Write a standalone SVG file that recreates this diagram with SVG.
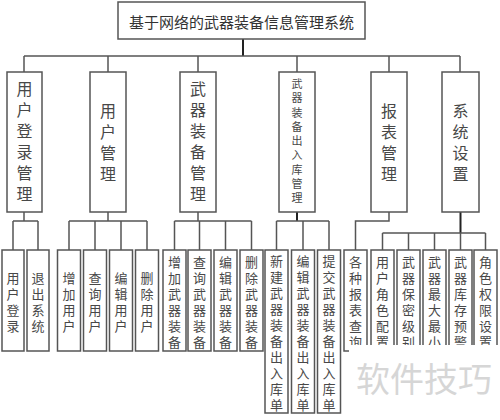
<svg xmlns="http://www.w3.org/2000/svg" width="500" height="420" viewBox="0 0 500 420">
<style>
.box{fill:#fff;stroke:#555;stroke-width:1.5}
.ln{fill:none;stroke:#555;stroke-width:1.5}
.dk{fill:none;stroke:#222;stroke-width:2}
text{font-family:"Noto Sans CJK SC","Noto Sans CJK JP",sans-serif;fill:#484848;text-anchor:middle;dominant-baseline:central}
.t1{font-size:15px;fill:#333}
.t2{font-size:16px}
.t2s{font-size:11px}
.t3{font-size:13px}
.wm{font-size:34px;fill:#d6d6d6;text-anchor:start;dominant-baseline:alphabetic}
</style>
<rect width="500" height="420" fill="#fff"/>
<g id="connectors">
<path class="dk" d="M243,39V56"/>
<path class="ln" d="M24,56H460M24,56V72M108,56V72M198,56V72M297,56V72M389,56V72M460,56V72"/>
<path class="ln" d="M24,212V221M13,221H38M13,221V250M38,221V250"/>
<path class="ln" d="M108,212V221M69,221H147M69,221V250M95,221V250M121,221V250M147,221V250"/>
<path class="ln" d="M198,212V221M174.5,221H251.5M174.5,221V250M199.5,221V250M225.5,221V250M251.5,221V250"/>
<path class="dk" d="M297,212V221"/>
<path class="ln" d="M276.5,221H329M276.5,221V250M303,221V250M329,221V250"/>
<path class="ln" d="M389,212V221H355.5V250"/>
<path class="dk" d="M460.5,212V233"/>
<path class="ln" d="M382.5,233H485.5M382.5,233V250M408.5,233V250M434.5,233V250M460.5,233V250M485.5,233V250"/>
</g>
<g id="root"><rect class="box" x="118" y="2" width="247" height="37"/><text class="t1" x="241.5" y="21">基于网络的武器装备信息管理系统</text></g>
<g id="n1"><rect class="box" x="7" y="72" width="35" height="140"/><text class="t2"><tspan x="24.5" y="88">用</tspan><tspan x="24.5" y="109">户</tspan><tspan x="24.5" y="130">登</tspan><tspan x="24.5" y="151">录</tspan><tspan x="24.5" y="172">管</tspan><tspan x="24.5" y="193">理</tspan></text></g>
<g id="n2"><rect class="box" x="90" y="72" width="36" height="140"/><text class="t2"><tspan x="108" y="110">用</tspan><tspan x="108" y="131">户</tspan><tspan x="108" y="152">管</tspan><tspan x="108" y="173">理</tspan></text></g>
<g id="n3"><rect class="box" x="180" y="72" width="36" height="140"/><text class="t2"><tspan x="198" y="88">武</tspan><tspan x="198" y="109">器</tspan><tspan x="198" y="130">装</tspan><tspan x="198" y="151">备</tspan><tspan x="198" y="172">管</tspan><tspan x="198" y="193">理</tspan></text></g>
<g id="n4"><rect class="box" x="279" y="72" width="36" height="140"/><text class="t2s"><tspan x="297" y="83">武</tspan><tspan x="297" y="97.3">器</tspan><tspan x="297" y="111.5">装</tspan><tspan x="297" y="125.8">备</tspan><tspan x="297" y="140">出</tspan><tspan x="297" y="154.3">入</tspan><tspan x="297" y="168.5">库</tspan><tspan x="297" y="182.8">管</tspan><tspan x="297" y="197">理</tspan></text></g>
<g id="n5"><rect class="box" x="371" y="72" width="36" height="140"/><text class="t2"><tspan x="389" y="110">报</tspan><tspan x="389" y="131">表</tspan><tspan x="389" y="152">管</tspan><tspan x="389" y="173">理</tspan></text></g>
<g id="n6"><rect class="box" x="442" y="72" width="37" height="140"/><text class="t2"><tspan x="460.5" y="110">系</tspan><tspan x="460.5" y="131">统</tspan><tspan x="460.5" y="152">设</tspan><tspan x="460.5" y="173">置</tspan></text></g>
<g id="n1a"><rect class="box" x="2" y="250" width="22" height="101"/><text class="t3"><tspan x="13" y="276.5">用</tspan><tspan x="13" y="292.5">户</tspan><tspan x="13" y="308.5">登</tspan><tspan x="13" y="324.5">录</tspan></text></g>
<g id="n1b"><rect class="box" x="27" y="250" width="22" height="101"/><text class="t3"><tspan x="38" y="276.5">退</tspan><tspan x="38" y="292.5">出</tspan><tspan x="38" y="308.5">系</tspan><tspan x="38" y="324.5">统</tspan></text></g>
<g id="n2a"><rect class="box" x="57.5" y="250" width="23" height="101"/><text class="t3"><tspan x="69" y="276.5">增</tspan><tspan x="69" y="292.5">加</tspan><tspan x="69" y="308.5">用</tspan><tspan x="69" y="324.5">户</tspan></text></g>
<g id="n2b"><rect class="box" x="83.5" y="250" width="23" height="101"/><text class="t3"><tspan x="95" y="276.5">查</tspan><tspan x="95" y="292.5">询</tspan><tspan x="95" y="308.5">用</tspan><tspan x="95" y="324.5">户</tspan></text></g>
<g id="n2c"><rect class="box" x="109.5" y="250" width="23" height="101"/><text class="t3"><tspan x="121" y="276.5">编</tspan><tspan x="121" y="292.5">辑</tspan><tspan x="121" y="308.5">用</tspan><tspan x="121" y="324.5">户</tspan></text></g>
<g id="n2d"><rect class="box" x="135.5" y="250" width="23" height="101"/><text class="t3"><tspan x="147" y="276.5">删</tspan><tspan x="147" y="292.5">除</tspan><tspan x="147" y="308.5">用</tspan><tspan x="147" y="324.5">户</tspan></text></g>
<g id="n3a"><rect class="box" x="163" y="250" width="23" height="101"/><text class="t3"><tspan x="174.5" y="261">增</tspan><tspan x="174.5" y="277">加</tspan><tspan x="174.5" y="293">武</tspan><tspan x="174.5" y="309">器</tspan><tspan x="174.5" y="325">装</tspan><tspan x="174.5" y="341">备</tspan></text></g>
<g id="n3b"><rect class="box" x="188" y="250" width="23" height="101"/><text class="t3"><tspan x="199.5" y="261">查</tspan><tspan x="199.5" y="277">询</tspan><tspan x="199.5" y="293">武</tspan><tspan x="199.5" y="309">器</tspan><tspan x="199.5" y="325">装</tspan><tspan x="199.5" y="341">备</tspan></text></g>
<g id="n3c"><rect class="box" x="214" y="250" width="23" height="101"/><text class="t3"><tspan x="225.5" y="261">编</tspan><tspan x="225.5" y="277">辑</tspan><tspan x="225.5" y="293">武</tspan><tspan x="225.5" y="309">器</tspan><tspan x="225.5" y="325">装</tspan><tspan x="225.5" y="341">备</tspan></text></g>
<g id="n3d"><rect class="box" x="240" y="250" width="23" height="101"/><text class="t3"><tspan x="251.5" y="261">删</tspan><tspan x="251.5" y="277">除</tspan><tspan x="251.5" y="293">武</tspan><tspan x="251.5" y="309">器</tspan><tspan x="251.5" y="325">装</tspan><tspan x="251.5" y="341">备</tspan></text></g>
<g id="n4a"><rect class="box" x="265" y="250" width="23" height="163"/><text class="t3"><tspan x="276.5" y="260">新</tspan><tspan x="276.5" y="276">建</tspan><tspan x="276.5" y="292">武</tspan><tspan x="276.5" y="308">器</tspan><tspan x="276.5" y="324">装</tspan><tspan x="276.5" y="340">备</tspan><tspan x="276.5" y="356">出</tspan><tspan x="276.5" y="372">入</tspan><tspan x="276.5" y="388">库</tspan><tspan x="276.5" y="404">单</tspan></text></g>
<g id="n4b"><rect class="box" x="291.5" y="250" width="23" height="163"/><text class="t3"><tspan x="303" y="260">编</tspan><tspan x="303" y="276">辑</tspan><tspan x="303" y="292">武</tspan><tspan x="303" y="308">器</tspan><tspan x="303" y="324">装</tspan><tspan x="303" y="340">备</tspan><tspan x="303" y="356">出</tspan><tspan x="303" y="372">入</tspan><tspan x="303" y="388">库</tspan><tspan x="303" y="404">单</tspan></text></g>
<g id="n4c"><rect class="box" x="317.5" y="250" width="23" height="163"/><text class="t3"><tspan x="329" y="260">提</tspan><tspan x="329" y="276">交</tspan><tspan x="329" y="292">武</tspan><tspan x="329" y="308">器</tspan><tspan x="329" y="324">装</tspan><tspan x="329" y="340">备</tspan><tspan x="329" y="356">出</tspan><tspan x="329" y="372">入</tspan><tspan x="329" y="388">库</tspan><tspan x="329" y="404">单</tspan></text></g>
<g id="n5a"><rect class="box" x="344" y="250" width="23" height="101"/><text class="t3"><tspan x="355.5" y="261">各</tspan><tspan x="355.5" y="277">种</tspan><tspan x="355.5" y="293">报</tspan><tspan x="355.5" y="309">表</tspan><tspan x="355.5" y="325">查</tspan><tspan x="355.5" y="341">询</tspan></text></g>
<g id="n6a"><rect class="box" x="371" y="250" width="23" height="140"/><text class="t3"><tspan x="382.5" y="261">用</tspan><tspan x="382.5" y="277">户</tspan><tspan x="382.5" y="293">角</tspan><tspan x="382.5" y="309">色</tspan><tspan x="382.5" y="325">配</tspan><tspan x="382.5" y="341">置</tspan></text></g>
<g id="n6b"><rect class="box" x="397" y="250" width="23" height="140"/><text class="t3"><tspan x="408.5" y="261">武</tspan><tspan x="408.5" y="277">器</tspan><tspan x="408.5" y="293">保</tspan><tspan x="408.5" y="309">密</tspan><tspan x="408.5" y="325">级</tspan><tspan x="408.5" y="341">别</tspan></text></g>
<g id="n6c"><rect class="box" x="423" y="250" width="23" height="140"/><text class="t3"><tspan x="434.5" y="261">武</tspan><tspan x="434.5" y="277">器</tspan><tspan x="434.5" y="293">最</tspan><tspan x="434.5" y="309">大</tspan><tspan x="434.5" y="325">最</tspan><tspan x="434.5" y="341">小</tspan></text></g>
<g id="n6d"><rect class="box" x="449" y="250" width="23" height="140"/><text class="t3"><tspan x="460.5" y="261">武</tspan><tspan x="460.5" y="277">器</tspan><tspan x="460.5" y="293">库</tspan><tspan x="460.5" y="309">存</tspan><tspan x="460.5" y="325">预</tspan><tspan x="460.5" y="341">警</tspan></text></g>
<g id="n6e"><rect class="box" x="474" y="250" width="23" height="140"/><text class="t3"><tspan x="485.5" y="261">角</tspan><tspan x="485.5" y="277">色</tspan><tspan x="485.5" y="293">权</tspan><tspan x="485.5" y="309">限</tspan><tspan x="485.5" y="325">设</tspan><tspan x="485.5" y="341">置</tspan></text></g>
<g id="watermark"><rect x="349" y="345" width="151" height="75" fill="#fff"/><text class="wm" x="356" y="392">软件技巧</text></g>
</svg>
